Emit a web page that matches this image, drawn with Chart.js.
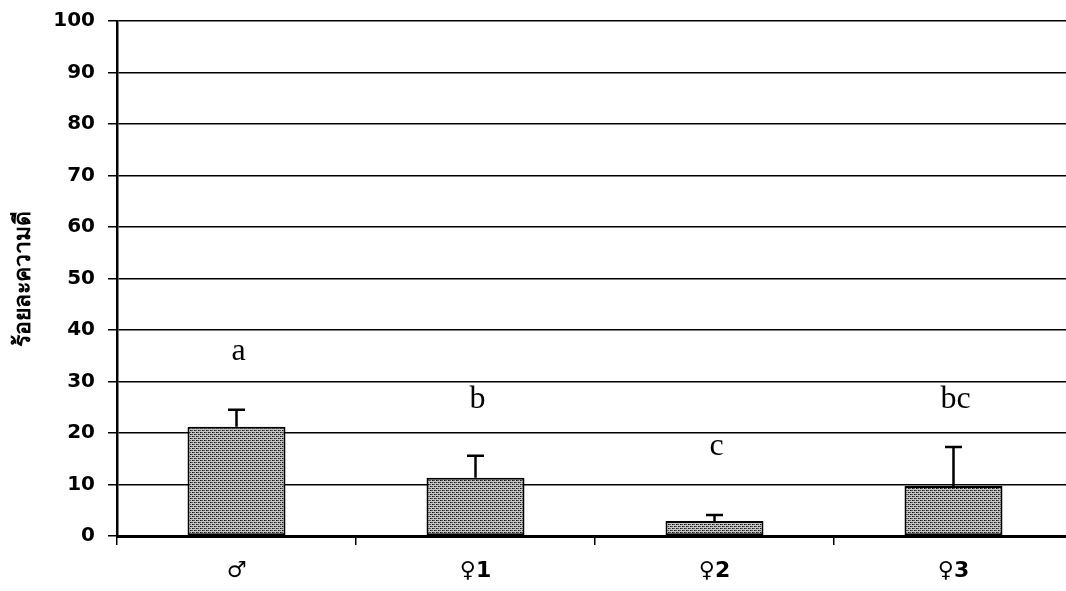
<!DOCTYPE html>
<html>
<head>
<meta charset="utf-8">
<script src="https://cdn.jsdelivr.net/npm/chart.js@4.4.0/dist/chart.umd.min.js"></script>
<style>
  html, body { margin: 0; padding: 0; background: #fff; overflow: hidden; }
  #wrap { width: 1075px; height: 591px; position: relative; }
</style>
</head>
<body>
<div id="wrap"><canvas id="c" width="1075" height="591"></canvas></div>
<script>
// ---- data ----
const categories = ['♂', '♀1', '♀2', '♀3'];
const means = [21.2, 11.3, 2.9, 9.7];
const errorsUp = [3.3, 4.3, 1.2, 7.6];
const letters = ['a', 'b', 'c', 'bc'];
const letterValues = [34.2, 24.9, 15.7, 24.9];
const yTicks = [0, 10, 20, 30, 40, 50, 60, 70, 80, 90, 100];
const yTitle = 'ร้อยละความดี';

// stipple pattern
function makePattern() {
  const p = document.createElement('canvas');
  p.width = 4; p.height = 4;
  const g = p.getContext('2d');
  g.fillStyle = '#c4c4c4';
  g.fillRect(0, 0, 4, 4);
  g.fillStyle = '#111';
  g.fillRect(0, 0, 1, 1);
  g.fillRect(2, 2, 1, 1);
  g.fillStyle = '#555';
  g.fillRect(1, 0, 1, 1);
  g.fillRect(3, 2, 1, 1);
  g.fillRect(0, 2, 1, 1);
  g.fillRect(2, 0, 1, 1);
  return document.getElementById('c').getContext('2d').createPattern(p, 'repeat');
}

const extras = {
  id: 'extras',
  afterDatasetsDraw(chart) {
    const ctx = chart.ctx;
    const y = chart.scales.y;
    const meta = chart.getDatasetMeta(0);
    ctx.save();
    meta.data.forEach((bar, i) => {
      const x = bar.x;
      const yTop = y.getPixelForValue(means[i]);
      const yErr = y.getPixelForValue(means[i] + errorsUp[i]);
      ctx.strokeStyle = '#000';
      ctx.lineWidth = 2.5;
      ctx.beginPath();
      ctx.moveTo(x, yTop);
      ctx.lineTo(x, yErr);
      ctx.moveTo(x - 8.5, yErr);
      ctx.lineTo(x + 8.5, yErr);
      ctx.stroke();
      ctx.fillStyle = '#000';
      ctx.font = '32px "Liberation Serif", "Times New Roman", serif';
      ctx.textAlign = 'center';
      ctx.textBaseline = 'alphabetic';
      ctx.fillText(letters[i], x + 2, y.getPixelForValue(letterValues[i]));
    });
    ctx.restore();
  }
};

new Chart(document.getElementById('c'), {
  type: 'bar',
  data: {
    labels: categories,
    datasets: [{
      data: means,
      backgroundColor: makePattern(),
      borderColor: '#000',
      borderWidth: 2,
      borderSkipped: false,
      categoryPercentage: 1.0,
      barPercentage: 0.41
    }]
  },
  options: {
    responsive: false,
    animation: false,
    devicePixelRatio: 1,
    layout: { padding: { top: 21, right: 2, left: 0, bottom: 0 } },
    plugins: { legend: { display: false }, tooltip: { enabled: false } },
    scales: {
      x: {
        offset: true,
        grid: { display: true, offset: true, drawOnChartArea: false, color: '#000', lineWidth: 1.5, tickLength: 9 },
        border: { display: true, color: '#000', width: 3 },
        ticks: { color: '#000', font: { family: '"DejaVu Sans", sans-serif', weight: 'bold', size: 22 }, padding: 13, maxRotation: 0 },
        afterFit(scale) { scale.height = 55; scale.paddingLeft = 0; scale.paddingRight = 0; }
      },
      y: {
        min: 0, max: 100,
        afterBuildTicks(scale) { scale.ticks = yTicks.map(v => ({ value: v })); },
        grid: { color: '#000', lineWidth: 1.5, tickLength: 9 },
        border: { display: true, color: '#000', width: 2.5 },
        ticks: { color: '#000', font: { family: '"DejaVu Sans", sans-serif', weight: 'bold', size: 20 }, padding: 13 },
        title: {
          display: true, text: yTitle, color: '#000',
          font: { family: '"Noto Sans", "DejaVu Sans", sans-serif', weight: 'bold', size: 23 },
          padding: { top: 10, bottom: 0 }
        },
        afterFit(scale) { scale.width = 117; scale.paddingTop = 0; scale.paddingBottom = 0; }
      }
    }
  },
  plugins: [extras]
});
</script>
</body>
</html>
